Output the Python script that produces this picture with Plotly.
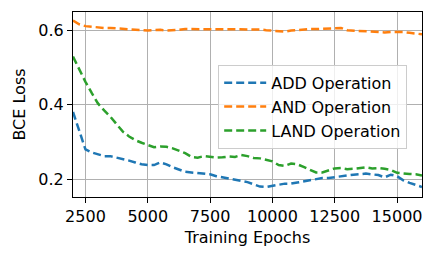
import plotly.graph_objects as go

epochs = list(range(2000, 16001, 250))

add_loss = [0.381, 0.33, 0.280, 0.272, 0.268, 0.262, 0.262, 0.258, 0.256, 0.250,
            0.245, 0.240, 0.238, 0.238, 0.245, 0.240, 0.232, 0.225, 0.220, 0.218,
            0.217, 0.215, 0.213, 0.208, 0.205, 0.203, 0.198, 0.195, 0.192, 0.186,
            0.180, 0.179, 0.181, 0.185, 0.188, 0.188, 0.191, 0.194, 0.196, 0.200,
            0.203, 0.203, 0.206, 0.208, 0.210, 0.212, 0.214, 0.215, 0.213, 0.211,
            0.205, 0.212, 0.208, 0.197, 0.190, 0.184, 0.179]

and_loss = [0.627, 0.617, 0.612, 0.610, 0.609, 0.607, 0.607, 0.606, 0.605, 0.603,
            0.601, 0.601, 0.600, 0.601, 0.602, 0.600, 0.600, 0.602, 0.604, 0.604,
            0.604, 0.603, 0.604, 0.604, 0.603, 0.603, 0.604, 0.605, 0.604, 0.603,
            0.603, 0.601, 0.600, 0.598, 0.597, 0.600, 0.602, 0.603, 0.604, 0.604,
            0.605, 0.606, 0.607, 0.607, 0.601, 0.600, 0.599, 0.597, 0.597, 0.596,
            0.595, 0.596, 0.597, 0.596, 0.594, 0.592, 0.590]

land_loss = [0.530, 0.495, 0.462, 0.432, 0.404, 0.385, 0.368, 0.348, 0.328, 0.315,
             0.305, 0.298, 0.292, 0.286, 0.288, 0.287, 0.283, 0.276, 0.270, 0.260,
             0.258, 0.262, 0.260, 0.258, 0.259, 0.261, 0.260, 0.265, 0.262, 0.257,
             0.256, 0.253, 0.248, 0.238, 0.236, 0.242, 0.240, 0.233, 0.226, 0.218,
             0.218, 0.224, 0.229, 0.230, 0.227, 0.228, 0.231, 0.232, 0.229, 0.230,
             0.228, 0.225, 0.217, 0.215, 0.214, 0.213, 0.210]

series = [
    ("ADD Operation", add_loss, "#1f77b4"),
    ("AND Operation", and_loss, "#ff7f0e"),
    ("LAND Operation", land_loss, "#2ca02c"),
]

x_ticks = [2500, 5000, 7500, 10000, 12500, 15000]
x_tick_labels = ["2500", "5000", "7500", "10000", "12500", "15000"]
y_ticks = [0.2, 0.4, 0.6]
y_tick_labels = ["0.2", "0.4", "0.6"]

fig = go.Figure()
for name, vals, color in series:
    fig.add_trace(go.Scatter(
        x=epochs, y=vals, mode="lines", name=name,
        line=dict(color=color, width=2.5, dash="8px,4px"),
    ))

font = "DejaVu Sans"
fig.update_layout(
    width=436, height=260,
    margin=dict(l=73, r=14, t=12, b=63),
    plot_bgcolor="white", paper_bgcolor="white",
    font=dict(family=font, size=16, color="black"),
    showlegend=True,
    legend=dict(
        x=0.416, y=0.714, xanchor="left", yanchor="top",
        bgcolor="rgba(255,255,255,0.8)", bordercolor="#cccccc", borderwidth=1,
        font=dict(family=font, size=16, color="black"),
        tracegroupgap=0, itemwidth=42,
    ),
    xaxis=dict(
        range=[2000, 16000], tickvals=x_ticks, ticktext=x_tick_labels,
        title=dict(text="Training Epochs", font=dict(size=16), standoff=6),
        showgrid=True, gridcolor="#b0b0b0", gridwidth=1,
        showline=True, linecolor="black", linewidth=1, mirror=True,
        ticks="outside", ticklen=5, tickcolor="black",
        zeroline=False,
    ),
    yaxis=dict(
        range=[0.152, 0.65], tickvals=y_ticks, ticktext=y_tick_labels,
        title=dict(text="BCE Loss", font=dict(size=16), standoff=8),
        showgrid=True, gridcolor="#b0b0b0", gridwidth=1,
        showline=True, linecolor="black", linewidth=1, mirror=True,
        ticks="outside", ticklen=5, tickcolor="black",
        zeroline=False,
    ),
)

fig.write_html("out.html", config={"displayModeBar": False},
               post_script="document.body.style.margin='0';")
